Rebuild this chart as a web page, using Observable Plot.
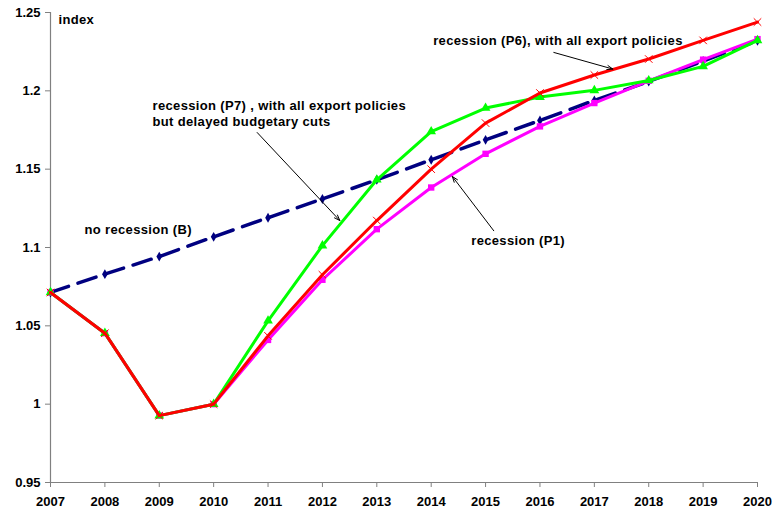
<!DOCTYPE html>
<html>
<head>
<meta charset="utf-8">
<script src="https://cdn.jsdelivr.net/npm/d3@7"></script>
<script src="https://cdn.jsdelivr.net/npm/@observablehq/plot@0.6"></script>
<style>
  html, body { margin: 0; padding: 0; background: #fff; }
  #chart svg { display: block; }
  #chart svg g[aria-label="text"] text { letter-spacing: 0.35px; }
</style>
</head>
<body>
<div id="chart"></div>
<script>
const years    = [2007, 2008, 2009, 2010, 2011, 2012, 2013, 2014, 2015, 2016, 2017, 2018, 2019, 2020];
const baseline = [1.0713, 1.083, 1.0942, 1.1068, 1.119, 1.131, 1.1432, 1.156, 1.1687, 1.1811, 1.1939, 1.206, 1.219, 1.232];
const p1       = [1.0713, 1.0453, 0.9927, 1.0, 1.041, 1.0794, 1.1117, 1.1383, 1.1598, 1.1773, 1.1922, 1.2064, 1.2199, 1.233];
const p6       = [1.0713, 1.0453, 0.9927, 1.0, 1.0436, 1.0826, 1.1172, 1.15, 1.1794, 1.1986, 1.2101, 1.2203, 1.2322, 1.2439];
const p7       = [1.0713, 1.0453, 0.9927, 1.0, 1.0532, 1.1012, 1.1432, 1.174, 1.189, 1.196, 1.2003, 1.2066, 1.2156, 1.2322];
const yTicks   = [0.95, 1, 1.05, 1.1, 1.15, 1.2, 1.25];

const labels = [
  {x: 2007.147, y: 1.2454, text: "index"},
  {x: 2008.876, y: 1.1907, text: "recession (P7) , with all export policies"},
  {x: 2008.876, y: 1.1803, text: "but delayed budgetary cuts"},
  {x: 2007.625, y: 1.1113, text: "no recession (B)"},
  {x: 2014.736, y: 1.1043, text: "recession (P1)"},
  {x: 2014.037, y: 1.2322, text: "recession (P6), with all export policies"}
];
const arrows = [
  {x1: 2010.80, y1: 1.1734, x2: 2012.32, y2: 1.1172},
  {x1: 2015.15, y1: 1.1107, x2: 2014.39, y2: 1.1453},
  {x1: 2016.255, y1: 1.2245, x2: 2017.34, y2: 1.2139}
];

const rows = (vals) => years.map((yr, i) => ({year: yr, v: vals[i]}));
const B = rows(baseline), P1 = rows(p1), P6 = rows(p6), P7 = rows(p7);

const chart = Plot.plot({
  width: 774,
  height: 516,
  marginLeft: 50,
  marginRight: 17,
  marginTop: 12,
  marginBottom: 34,
  style: {fontFamily: "'Liberation Sans', Arial, sans-serif", fontSize: "13px", fontWeight: "bold", background: "#fff", color: "#000"},
  x: {domain: [2007, 2020]},
  y: {domain: [0.95, 1.25]},
  marks: [
    Plot.ruleX([2007], {stroke: "#808080", strokeWidth: 1.2}),
    Plot.ruleY([0.95], {stroke: "#808080", strokeWidth: 1.2}),
    Plot.axisX({ticks: years, tickFormat: "d", tickSize: 5, tickPadding: 9, stroke: "#808080", fill: "#000", label: null}),
    Plot.axisY({ticks: yTicks, tickFormat: d => String(+d.toFixed(2)), tickSize: 5, tickPadding: 5, stroke: "#808080", fill: "#000", label: null}),
    Plot.line(B, {x: "year", y: "v", stroke: "#000080", strokeWidth: 3.5, strokeDasharray: "19,10"}),
    Plot.dot(B, {x: "year", y: "v", symbol: "diamond", fill: "#000080", r: 3}),
    Plot.line(P1, {x: "year", y: "v", stroke: "#ff00ff", strokeWidth: 3}),
    Plot.dot(P1, {x: "year", y: "v", symbol: "square", fill: "#ff00ff", r: 3.6}),
    Plot.line(P7, {x: "year", y: "v", stroke: "#00ff00", strokeWidth: 3}),
    Plot.dot(P7, {x: "year", y: "v", symbol: "triangle", fill: "#00ff00", r: 3.6}),
    Plot.line(P6, {x: "year", y: "v", stroke: "#ff0000", strokeWidth: 3}),
    Plot.dot(P6, {x: "year", y: "v", symbol: "times", stroke: "#ff0000", strokeWidth: 1, r: 3.5}),
    Plot.arrow(arrows, {x1: "x1", y1: "y1", x2: "x2", y2: "y2", stroke: "#000", strokeWidth: 1, headLength: 9, headAngle: 40}),
    Plot.text(labels, {x: "x", y: "y", text: "text", textAnchor: "start", fill: "#000", fontWeight: "bold", fontSize: 13})
  ]
});
document.getElementById("chart").appendChild(chart);
</script>
</body>
</html>
